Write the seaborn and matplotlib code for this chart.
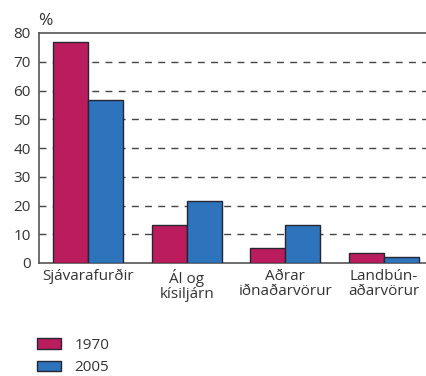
import matplotlib
matplotlib.use("Agg")
import matplotlib.pyplot as plt
import seaborn as sns
import pandas as pd
import numpy as np
from matplotlib.ticker import FixedLocator
from matplotlib.patches import Patch

categories = ["Sjávarafurðir", "Ál og\nkísiljárn", "Aðrar\niðnaðarvörur", "Landbún-\naðarvörur"]
years = ["1970", "2005"]
values_1970 = [77, 13.2, 5.3, 3.4]
values_2005 = [56.8, 21.7, 13.3, 2.0]
yticks = [0, 10, 20, 30, 40, 50, 60, 70, 80]

df = pd.DataFrame({
    "flokkur": categories * 2,
    "ár": [years[0]] * 4 + [years[1]] * 4,
    "hlutfall": values_1970 + values_2005,
})

sns.set_style("white")
plt.rcParams["font.family"] = ["Open Sans", "DejaVu Sans"]
text_color = "#333333"
fs = 11

fig = plt.figure(figsize=(4.27, 3.76), dpi=100)
ax = fig.add_axes([39 / 427, 113 / 376, 394 / 427, 230 / 376])

colors = {"1970": "#BA1C5E", "2005": "#2E74BC"}
sns.barplot(data=df, x="flokkur", y="hlutfall", hue="ár", palette=colors,
            saturation=1, width=0.71, edgecolor="#262633", linewidth=1.0,
            ax=ax, legend=False, zorder=3)

ax.set_xlim(-0.5, 3.5)
ax.set_ylim(0, 80)
ax.set_yticks(yticks)
ax.set_yticklabels([str(t) for t in yticks], fontsize=fs, color=text_color)
ax.tick_params(axis="y", length=0, pad=6)

ax.set_xticks(range(len(categories)))
ax.set_xticklabels(categories, fontsize=fs, color=text_color, linespacing=1.05)
ax.tick_params(axis="x", which="major", length=0, pad=4)
ax.xaxis.set_minor_locator(FixedLocator([-0.5, 0.5, 1.5, 2.5]))
ax.tick_params(axis="x", which="minor", length=5, width=1, color="#555555")

ax.set_xlabel("")
ax.set_ylabel("")

for y in yticks[1:-1]:
    ax.axhline(y, color="#444444", linewidth=1, linestyle=(0, (5, 4.5)), zorder=1)

for side in ["left", "bottom", "top"]:
    ax.spines[side].set_visible(True)
    ax.spines[side].set_color("#555555")
    ax.spines[side].set_linewidth(1.2)
ax.spines["right"].set_visible(False)

fig.text(38 / 427, 1 - 21 / 376, "%", fontsize=12.5, color=text_color, va="center", ha="left")

handles = [Patch(facecolor=colors[y], edgecolor="#262633", linewidth=1.0, label=y) for y in years]
fig.legend(handles=handles, loc="upper left", bbox_to_anchor=(23 / 427, 1 - 324 / 376),
           frameon=False, fontsize=fs, handlelength=1.6, handleheight=0.7,
           handletextpad=0.85, labelspacing=0.5, labelcolor=text_color)

fig.savefig("out.png", dpi=100)
